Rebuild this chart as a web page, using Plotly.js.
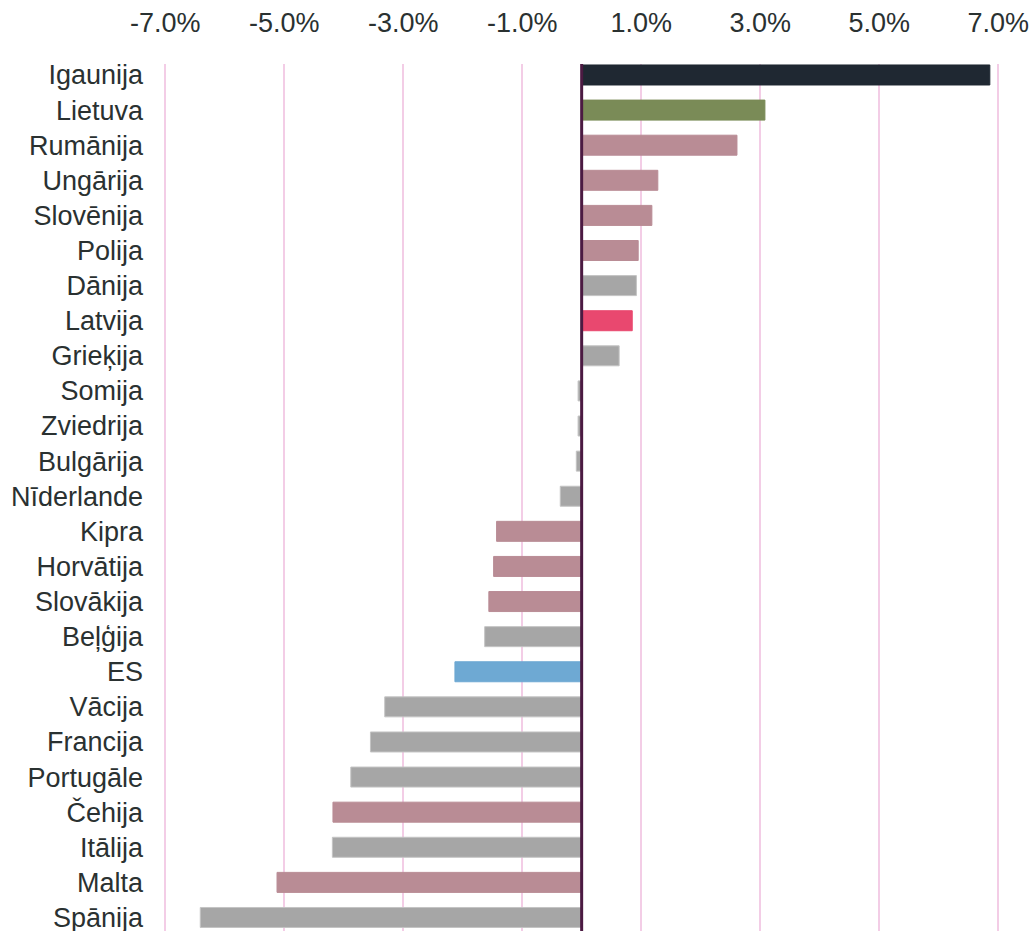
<!DOCTYPE html>
<html>
<head>
<meta charset="utf-8">
<script src="https://cdn.plot.ly/plotly-3.0.1.min.js"></script>
<style>html,body{margin:0;padding:0;background:#fff;}#chart{width:1032px;height:931px;}</style>
</head>
<body>
<div id="chart"></div>
<script>
const countries = ["Igaunija","Lietuva","Rumānija","Ungārija","Slovēnija","Polija","Dānija","Latvija","Grieķija","Somija","Zviedrija","Bulgārija","Nīderlande","Kipra","Horvātija","Slovākija","Beļģija","ES","Vācija","Francija","Portugāle","Čehija","Itālija","Malta","Spānija"];
const values = [6.86, 3.08, 2.61, 1.28, 1.18, 0.95, 0.92, 0.85, 0.63, -0.06, -0.06, -0.09, -0.36, -1.43, -1.48, -1.56, -1.63, -2.13, -3.31, -3.55, -3.88, -4.18, -4.19, -5.12, -6.41];
const groups = ["EE","LT","new","new","new","new","old","LV","old","old","old","old","old","new","new","new","old","EU","old","old","old","new","old","new","old"];
const tickValues = [-7,-5,-3,-1,1,3,5,7];
const tickLabels = ["-7.0%","-5.0%","-3.0%","-1.0%","1.0%","3.0%","5.0%","7.0%"];

const palette = {EE:"#1f2832", LT:"#7a8b57", new:"#b98c95", old:"#a6a6a6", LV:"#e9486f", EU:"#6ea9d3"};
const lineCol = {EE:"#1f2832", LT:"#7a8b57", new:"#b98c95", old:"#c4c4c4", LV:"#e9486f", EU:"#6ea9d3"};

const trace = {
  type: "bar",
  orientation: "h",
  y: countries,
  x: values,
  marker: {
    color: groups.map(g => palette[g]),
    line: {color: groups.map(g => lineCol[g]), width: 1}
  },
  hoverinfo: "none"
};

const layout = {
  width: 1032, height: 931,
  margin: {l: 150, r: 27, t: 64, b: 0, pad: 0},
  paper_bgcolor: "#ffffff",
  plot_bgcolor: "#ffffff",
  showlegend: false,
  bargap: 0.43,
  font: {family: "Liberation Sans, Arial, sans-serif", size: 27, color: "#2a3131"},
  xaxis: {
    side: "top",
    range: [-7.255, 7.115],
    tickvals: tickValues,
    ticktext: tickLabels,
    showgrid: true,
    gridcolor: "#f3cde6",
    gridwidth: 2,
    zeroline: false,
    showline: false,
    ticks: "",
    ticklabelstandoff: 26,
    tickfont: {size: 27, color: "#2a3131"}
  },
  yaxis: {
    type: "category",
    categoryorder: "array",
    categoryarray: countries,
    range: [24.385, -0.313],
    showgrid: false,
    zeroline: false,
    showline: false,
    ticks: "",
    ticklabelstandoff: 6,
    tickfont: {size: 27, color: "#2a3131"}
  },
  shapes: [{
    type: "line", xref: "x", yref: "paper",
    x0: 0, x1: 0, y0: 0, y1: 1,
    line: {color: "#4b1a42", width: 3},
    layer: "above"
  }]
};

Plotly.newPlot("chart", [trace], layout, {staticPlot: true, displayModeBar: false});
</script>
</body>
</html>
